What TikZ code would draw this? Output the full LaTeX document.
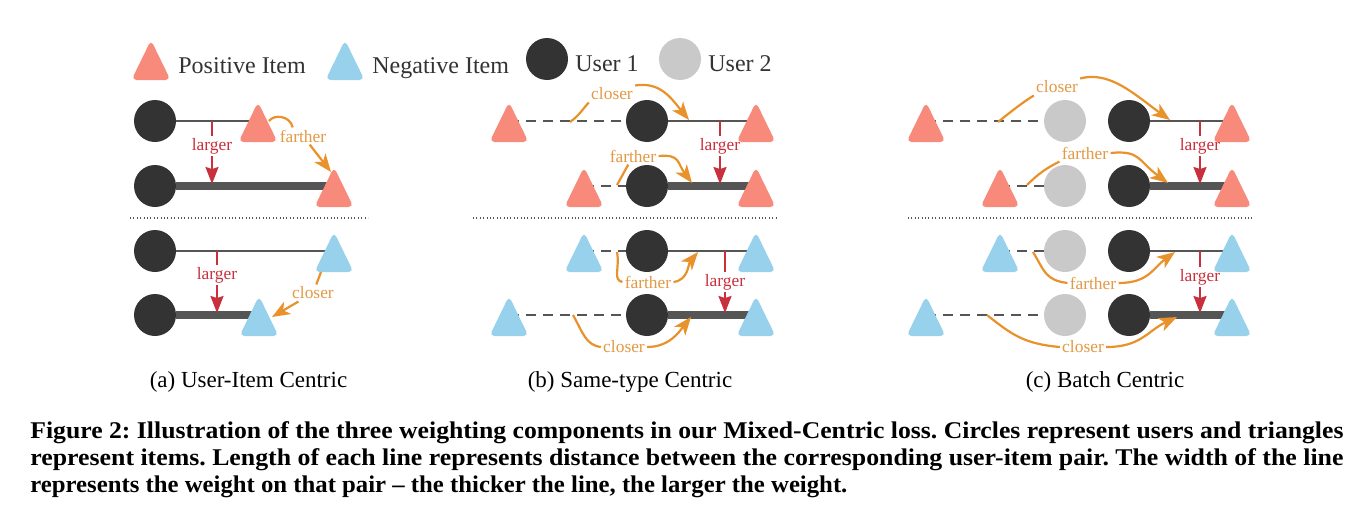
\documentclass[tikz,border=0pt]{standalone}
\usepackage{fontspec}
\setmainfont{Liberation Serif}
\usepackage{graphicx}
\usetikzlibrary{arrows.meta}
\pgfdeclarelayer{bg}
\pgfsetlayers{bg,main}
\frenchspacing
\definecolor{pinkc}{HTML}{F88A7C}
\definecolor{bluec}{HTML}{98D1EC}
\definecolor{uone}{HTML}{333333}
\definecolor{utwo}{HTML}{C9C9C9}
\definecolor{lin}{HTML}{555555}
\definecolor{orng}{HTML}{E9922B}
\definecolor{orngtxt}{HTML}{E39A45}
\definecolor{rd}{HTML}{C9303E}
\definecolor{legtxt}{HTML}{333333}
\tikzset{
 userone/.style={circle, fill=uone, minimum size=21pt, inner sep=0},
 usertwo/.style={circle, fill=utwo, minimum size=21pt, inner sep=0},
 thinline/.style={draw=lin, line width=1.35pt},
 thickline/.style={draw=lin, line width=3.8pt},
 dashline/.style={draw=lin, line width=1.15pt, dash pattern=on 5pt off 3.5pt},
 olabel/.style={text=orngtxt, font=\fontsize{8.7}{10}\selectfont, inner sep=1pt},
 rlabel/.style={text=rd, font=\fontsize{8.7}{10}\selectfont, inner sep=1pt},
 oline/.style={draw=orng, line width=1.1pt},
 oarrow/.style={draw=orng, line width=1.1pt, -{Stealth[length=9pt,width=7pt,inset=2.5pt]}},
 rline/.style={draw=rd, line width=1pt},
 rarrow/.style={draw=rd, line width=1pt, -{Stealth[length=8.5pt,width=6.5pt,inset=1pt]}},
 sepline/.style={draw=lin, line width=0.8pt, dash pattern=on 0.5pt off 1.2pt},
 legend/.style={text=legtxt, font=\fontsize{12}{14}\selectfont, inner sep=0, anchor=base west},
 subcap/.style={font=\fontsize{11.5}{14}\selectfont, inner sep=0, anchor=base},
 capline/.style={font=\fontsize{12}{14}\selectfont\bfseries, inner sep=0, anchor=base west},
}
\newcommand\mytri[4]{\coordinate (#1) at (#2,#3);\fill[fill=#4,rounded corners=2.5pt] (#2,#3+21) -- (#2+19.5,#3+21) -- (#2,#3-19) -- (#2-19.5,#3+21) -- cycle;}
\begin{document}
\begin{tikzpicture}[x=0.5pt,y=-0.5pt]
\begin{pgfonlayer}{bg}
\fill[white] (0,0) rectangle (1358,514);
\end{pgfonlayer}
\useasboundingbox (0,0) rectangle (1358,514);
% legend
\mytri{lp}{151}{59}{pinkc}
\node[legend] (lpt) at (178,73) {Positive Item};
\mytri{ln}{345}{59}{bluec}
\node[legend] (lnt) at (372,73) {Negative Item};
\node[userone] (lu1) at (547,59) {};
\node[legend] (lu1t) at (575,71) {User 1};
\node[usertwo] (lu2) at (680,59) {};
\node[legend] (lu2t) at (708,71) {User 2};
% ---------- panel (a)
\node[userone] (a1u) at (155,121) {};
\node[userone] (a2u) at (155,186) {};
\node[userone] (a3u) at (155,251) {};
\node[userone] (a4u) at (155,315) {};
\coordinate (a1t) at (258,121);
\coordinate (a2t) at (334,186);
\coordinate (a3t) at (334,251);
\coordinate (a4t) at (259,315);
\begin{pgfonlayer}{bg}
\draw[thinline] (a1u) -- (a1t);
\draw[thickline] (a2u) -- (a2t);
\draw[thinline] (a3u) -- (a3t);
\draw[thickline] (a4u) -- (a4t);
\end{pgfonlayer}
\mytri{a1t}{258}{121}{pinkc}
\mytri{a2t}{334}{186}{pinkc}
\mytri{a3t}{334}{251}{bluec}
\mytri{a4t}{259}{315}{bluec}
\draw[sepline] (130,218) -- (368,218);
% red
\coordinate (ra1) at (212,121); \coordinate (ra2) at (212,184);
\node[rlabel] (la1) at (212,146) {larger};
\draw[rline] (ra1) -- (la1); \draw[rarrow] (la1) -- (ra2);
\coordinate (ra3) at (217,251); \coordinate (ra4) at (217,313);
\node[rlabel] (la2) at (217,275) {larger};
\draw[rline] (ra3) -- (la2); \draw[rarrow] (la2) -- (ra4);
% orange
\coordinate (a1s) at (269,121); \coordinate (a2a) at (331,172);
\node[olabel] (fa) at (303,136) {farther};
\draw[oline] (a1s) .. controls +(5,-7) and +(-3,-12) .. (fa.140);
\draw[oarrow] (fa) -- (a2a);
\coordinate (a3s) at (321,272); \coordinate (a4a) at (272,317);
\node[olabel] (ca) at (313,293) {closer};
\draw[oline] (a3s) -- (ca);
\draw[oarrow] (ca) -- (a4a);
\node[subcap] (capa) at (248.5,387) {(a) User-Item Centric};
% ---------- panel (b)
\node[userone] (b1u) at (647,121) {};
\node[userone] (b2u) at (647,186) {};
\node[userone] (b3u) at (647,251) {};
\node[userone] (b4u) at (647,315) {};
\coordinate (b1l) at (509,121); \coordinate (b1r) at (756,121);
\coordinate (b2l) at (584,186); \coordinate (b2r) at (756,186);
\coordinate (b3l) at (584,251); \coordinate (b3r) at (756,251);
\coordinate (b4l) at (509,315); \coordinate (b4r) at (756,315);
\begin{pgfonlayer}{bg}
\draw[dashline] (b1l) -- (b1u); \draw[thinline] (b1u) -- (b1r);
\draw[dashline] (b2l) -- (b2u); \draw[thickline] (b2u) -- (b2r);
\draw[dashline] (b3l) -- (b3u); \draw[thinline] (b3u) -- (b3r);
\draw[dashline] (b4l) -- (b4u); \draw[thickline] (b4u) -- (b4r);
\end{pgfonlayer}
\mytri{b1l}{509}{121}{pinkc} \mytri{b1r}{756}{121}{pinkc}
\mytri{b2l}{584}{186}{pinkc} \mytri{b2r}{756}{186}{pinkc}
\mytri{b3l}{584}{251}{bluec} \mytri{b3r}{756}{251}{bluec}
\mytri{b4l}{509}{315}{bluec} \mytri{b4r}{756}{315}{bluec}
\draw[sepline] (473,218) -- (776,218);
% red
\coordinate (rb1) at (720,121); \coordinate (rb2) at (720,184);
\node[rlabel] (lb1) at (720,146) {larger};
\draw[rline] (rb1) -- (lb1); \draw[rarrow] (lb1) -- (rb2);
\coordinate (rb3) at (725,251); \coordinate (rb4) at (725,313);
\node[rlabel] (lb2) at (725,282) {larger};
\draw[rline] (rb3) -- (lb2); \draw[rarrow] (lb2) -- (rb4);
% orange
\coordinate (b1s) at (570,122); \coordinate (b1a) at (689,120);
\node[olabel] (cb1) at (612,94) {closer};
\draw[oline] (b1s) .. controls +(10,-7) and +(-6,6) .. (cb1.south west);
\draw[oarrow] (cb1.north east) .. controls +(25,-4) and +(-18,-22) .. (b1a);
\coordinate (b2s) at (617,185); \coordinate (b2a) at (692,183);
\node[olabel] (fb2) at (633,156) {farther};
\draw[oline] (b2s) -- (fb2);
\draw[oarrow] (fb2.east) .. controls +(22,-2) and +(-15,-20) .. (b2a);
\coordinate (b3s) at (617,252); \coordinate (b3a) at (698,252);
\node[olabel] (fb3) at (648,282) {farther};
\draw[oline] (b3s) .. controls +(3,16) and +(-10,-2) .. (fb3.west);
\draw[oarrow] (fb3.east) .. controls +(15,-2) and +(-10,12) .. (b3a);
\coordinate (b4s) at (573,315); \coordinate (b4a) at (691,317);
\node[olabel] (cb4) at (624,347) {closer};
\draw[oline] (b4s) .. controls +(10,18) and +(-15,-2) .. (cb4.west);
\draw[oarrow] (cb4.east) .. controls +(22,0) and +(-12,15) .. (b4a);
\node[subcap] (capb) at (630,387) {(b) Same-type Centric};
% ---------- panel (c)
\node[usertwo] (c1g) at (1065,121) {}; \node[userone] (c1u) at (1129,121) {};
\node[usertwo] (c2g) at (1065,186) {}; \node[userone] (c2u) at (1129,186) {};
\node[usertwo] (c3g) at (1065,251) {}; \node[userone] (c3u) at (1129,251) {};
\node[usertwo] (c4g) at (1065,315) {}; \node[userone] (c4u) at (1129,315) {};
\coordinate (c1l) at (926,121); \coordinate (c1r) at (1232,121);
\coordinate (c2l) at (1000,186); \coordinate (c2r) at (1232,186);
\coordinate (c3l) at (1000,251); \coordinate (c3r) at (1232,251);
\coordinate (c4l) at (926,315); \coordinate (c4r) at (1232,315);
\begin{pgfonlayer}{bg}
\draw[dashline] (c1l) -- (c1g); \draw[thinline] (c1u) -- (c1r);
\draw[dashline] (c2l) -- (c2g); \draw[thickline] (c2u) -- (c2r);
\draw[dashline] (c3l) -- (c3g); \draw[thinline] (c3u) -- (c3r);
\draw[dashline] (c4l) -- (c4g); \draw[thickline] (c4u) -- (c4r);
\end{pgfonlayer}
\mytri{c1l}{926}{121}{pinkc} \mytri{c1r}{1232}{121}{pinkc}
\mytri{c2l}{1000}{186}{pinkc} \mytri{c2r}{1232}{186}{pinkc}
\mytri{c3l}{1000}{251}{bluec} \mytri{c3r}{1232}{251}{bluec}
\mytri{c4l}{926}{315}{bluec} \mytri{c4r}{1232}{315}{bluec}
\draw[sepline] (908,218) -- (1254,218);
% red
\coordinate (rc1) at (1200,121); \coordinate (rc2) at (1200,184);
\node[rlabel] (lc1) at (1200,146) {larger};
\draw[rline] (rc1) -- (lc1); \draw[rarrow] (lc1) -- (rc2);
\coordinate (rc3) at (1200,251); \coordinate (rc4) at (1200,313);
\node[rlabel] (lc2) at (1200,277) {larger};
\draw[rline] (rc3) -- (lc2); \draw[rarrow] (lc2) -- (rc4);
% orange
\coordinate (c1s) at (998,122); \coordinate (c1a) at (1170,120);
\node[olabel] (cc1) at (1057,87) {closer};
\draw[oline] (c1s) .. controls +(15,-12) and +(-10,6) .. (cc1.south west);
\draw[oarrow] (cc1.north east) .. controls +(30,-8) and +(-35,-25) .. (c1a);
\coordinate (c2s) at (1027,185); \coordinate (c2a) at (1168,183);
\node[olabel] (fc2) at (1085,153) {farther};
\draw[oline] (c2s) .. controls +(12,-12) and +(-12,6) .. (fc2.south west);
\draw[oarrow] (fc2.east) .. controls +(30,-3) and +(-30,-22) .. (c2a);
\coordinate (c3s) at (1033,252); \coordinate (c3a) at (1175,252);
\node[olabel] (fc3) at (1093,283) {farther};
\draw[oline] (c3s) .. controls +(12,20) and +(-22,-3) .. (fc3.west);
\draw[oarrow] (fc3.east) .. controls +(30,0) and +(-22,16) .. (c3a);
\coordinate (c4s) at (987,315); \coordinate (c4a) at (1177,317);
\node[olabel] (cc4) at (1083,347) {closer};
\draw[oline] (c4s) .. controls +(25,20) and +(-35,-3) .. (cc4.west);
\draw[oarrow] (cc4.east) .. controls +(35,0) and +(-30,14) .. (c4a);
\node[subcap] (capc) at (1105,387) {(c) Batch Centric};
% ---------- figure caption
\node[capline] (cap1) at (30,438) {\resizebox{656.5pt}{\height}{\bfseries Figure 2: Illustration of the three weighting components in our Mixed-Centric loss. Circles represent users and triangles}};
\node[capline] (cap2) at (30,465) {\resizebox{656.5pt}{\height}{\bfseries represent items. Length of each line represents distance between the corresponding user-item pair. The width of the line}};
\node[capline] (cap3) at (30,492) {\resizebox{408.5pt}{\height}{\bfseries represents the weight on that pair – the thicker the line, the larger the weight.}};
\end{tikzpicture}
\end{document}
